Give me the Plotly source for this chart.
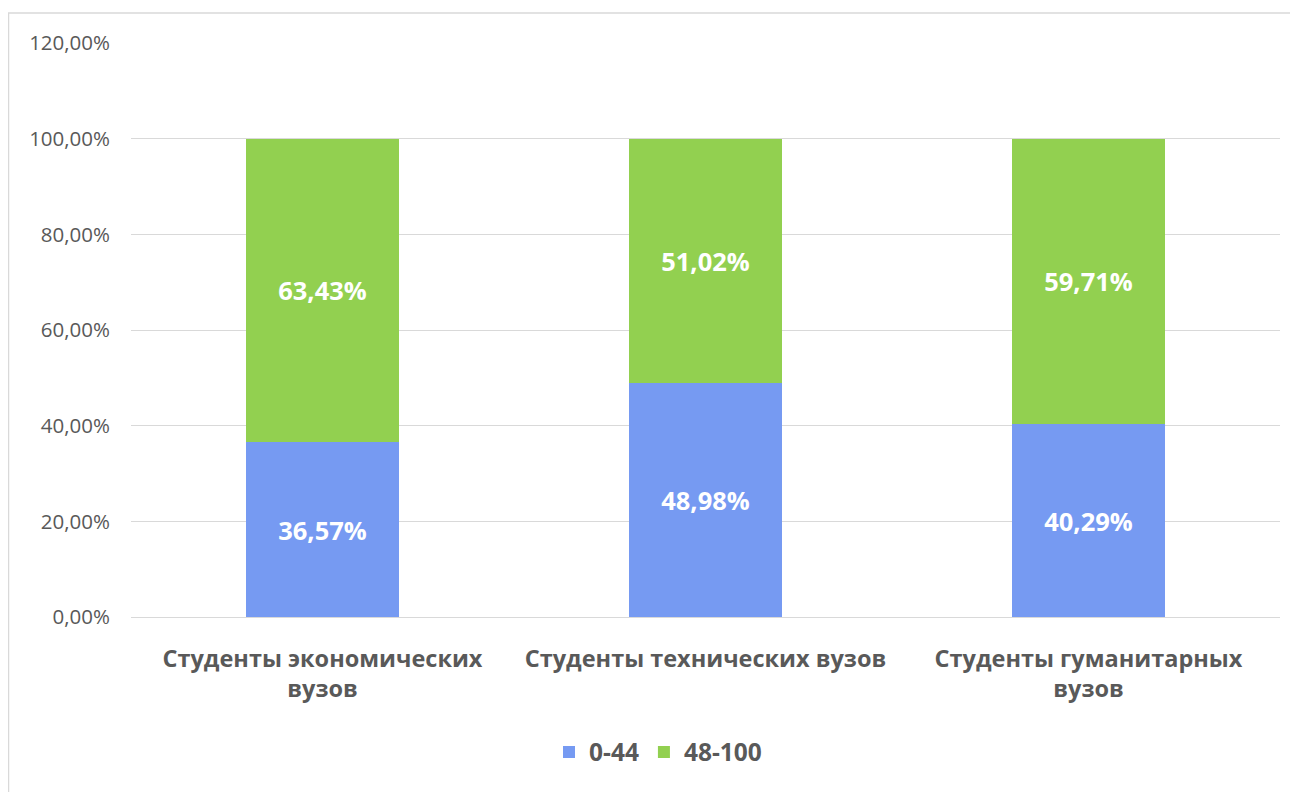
import plotly.graph_objects as go

categories = ["Студенты экономических<br>вузов", "Студенты технических вузов", "Студенты гуманитарных<br>вузов"]
low_values = [0.3657, 0.4898, 0.4029]
high_values = [0.6343, 0.5102, 0.5971]
series_names = ["0-44", "48-100"]
tick_values = [0, 0.2, 0.4, 0.6, 0.8, 1.0, 1.2]

FONT = "'Open Sans', sans-serif"
GRAY = "#595959"

# page offset of the plot (body margin is 8px)
OFF = 8
PL, PR, PT, PB = 131, 1280, 43, 617   # target plot area in page px
W, H = 1298, 792
PW, PH = PR - PL, PB - PT

fig = go.Figure()
for vals, name, color in [(low_values, series_names[0], "#769af2"),
                          (high_values, series_names[1], "#92d050")]:
    fig.add_trace(go.Bar(
        x=categories, y=vals, name=name,
        marker=dict(color=color, line=dict(width=0)),
        texttemplate="%{y:.2%}", textposition="inside", insidetextanchor="middle",
        textangle=0, constraintext="none",
        textfont=dict(family=FONT, size=25.5, color="white", weight="bold"),
    ))

fig.update_layout(
    barmode="stack",
    bargap=0.603,
    width=W, height=H,
    separators=", ",
    paper_bgcolor="white", plot_bgcolor="white",
    margin=dict(l=PL - OFF, r=W + OFF - PR, t=PT - OFF, b=H + OFF - PB, autoexpand=False),
    font=dict(family=FONT, color=GRAY),
    showlegend=True,
    legend=dict(orientation="h", x=(658 - PL) / PW, xanchor="center",
                y=(PB - 752) / PH, yanchor="middle",
                font=dict(family=FONT, size=24.5, color=GRAY, weight="bold"),
                traceorder="normal", itemwidth=30),
    xaxis=dict(tickfont=dict(family=FONT, size=23.5, color=GRAY, weight="bold"),
               showgrid=False, showline=False, ticks="", ticklabelstandoff=25),
    yaxis=dict(range=[0, 1.2], tickvals=tick_values, tickformat=".2%",
               tickfont=dict(family=FONT, size=20.5, color=GRAY),
               showgrid=True, gridcolor="#d9d9d9", gridwidth=1.3,
               zeroline=True, zerolinecolor="#d9d9d9", zerolinewidth=1.3,
               showline=False, ticks="", ticklabelstandoff=20),
    shapes=[dict(type="rect", xref="paper", yref="paper",
                 x0=(8.5 - PL) / PW, x1=(1320 - PL) / PW,
                 y0=(PB - 820) / PH, y1=(PB - 13) / PH,
                 line=dict(color="#d9d9d9", width=1.5), fillcolor="rgba(0,0,0,0)", layer="below")],
)

fig.write_html("out.html")
